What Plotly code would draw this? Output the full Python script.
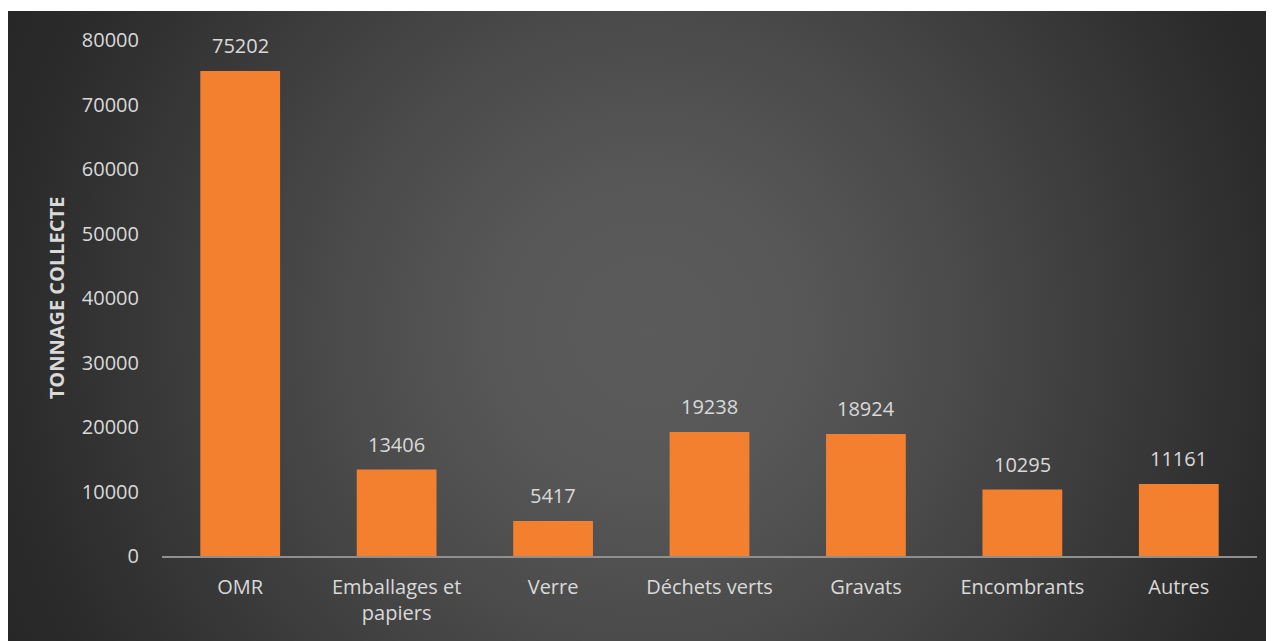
import base64
import plotly.graph_objects as go

categories = ["OMR", "Emballages et<br>papiers", "Verre", "Déchets verts", "Gravats", "Encombrants", "Autres"]
values = [75202, 13406, 5417, 19238, 18924, 10295, 11161]
y_ticks = [0, 10000, 20000, 30000, 40000, 50000, 60000, 70000, 80000]

# page body adds an 8px margin, so the figure is 8px smaller on each axis
W, H = 1266, 633
L, R, T, B = 154, 17, 32, 85

svg = """<svg xmlns='http://www.w3.org/2000/svg' width='1266' height='630' viewBox='0 0 1266 630' preserveAspectRatio='none'>
<defs><radialGradient id='g' gradientUnits='userSpaceOnUse' cx='640' cy='320' r='720'>
<stop offset='0' stop-color='#5B5B5B'/>
<stop offset='0.22' stop-color='#575757'/>
<stop offset='0.44' stop-color='#4A4A4A'/>
<stop offset='0.87' stop-color='#2C2C2C'/>
<stop offset='1' stop-color='#262626'/>
</radialGradient></defs>
<rect x='0' y='0' width='1266' height='630' fill='url(#g)'/>
</svg>"""
bg_uri = "data:image/svg+xml;base64," + base64.b64encode(svg.encode()).decode()

pw = W - L - R
ph = H - T - B
top_px = 3  # top of the dark panel in figure pixels

fig = go.Figure()
fig.add_trace(go.Bar(
    x=categories,
    y=values,
    marker=dict(color="#F2802F", line=dict(width=0)),
    hovertemplate="%{x}: %{y}<extra></extra>",
))

for c, v in zip(categories, values):
    fig.add_annotation(
        x=c, y=v, text=str(v), showarrow=False,
        yanchor="bottom", yshift=10,
        font=dict(color="#D9D9D9", size=20, family="Open Sans"),
    )

fig.update_layout(
    width=W, height=H,
    margin=dict(l=L, r=R, t=T, b=B, pad=0),
    paper_bgcolor="white",
    plot_bgcolor="rgba(0,0,0,0)",
    bargap=0.49,
    showlegend=False,
    font=dict(family="Open Sans", color="#D9D9D9", size=20),
    images=[dict(
        source=bg_uri, xref="paper", yref="paper",
        x=(0 - L) / pw, y=(H - B - top_px) / ph,
        sizex=W / pw, sizey=(H - top_px) / ph,
        xanchor="left", yanchor="top", sizing="stretch", layer="below",
    )],
    xaxis=dict(
        showline=True, linecolor="#8F8F8F", linewidth=2,
        showgrid=False, ticks="", ticklabelstandoff=12,
        tickfont=dict(size=20, color="#D9D9D9"),
    ),
    yaxis=dict(
        range=[0, 80000], tickvals=y_ticks, ticktext=[str(v) for v in y_ticks],
        showgrid=False, zeroline=False, showline=False, ticks="",
        ticklabelstandoff=22,
        tickfont=dict(size=20, color="#D9D9D9"),
        title=dict(text="<b>TONNAGE COLLECTE</b>", font=dict(size=20, color="#D9D9D9"), standoff=11),
    ),
)

fig.write_html("out.html")
